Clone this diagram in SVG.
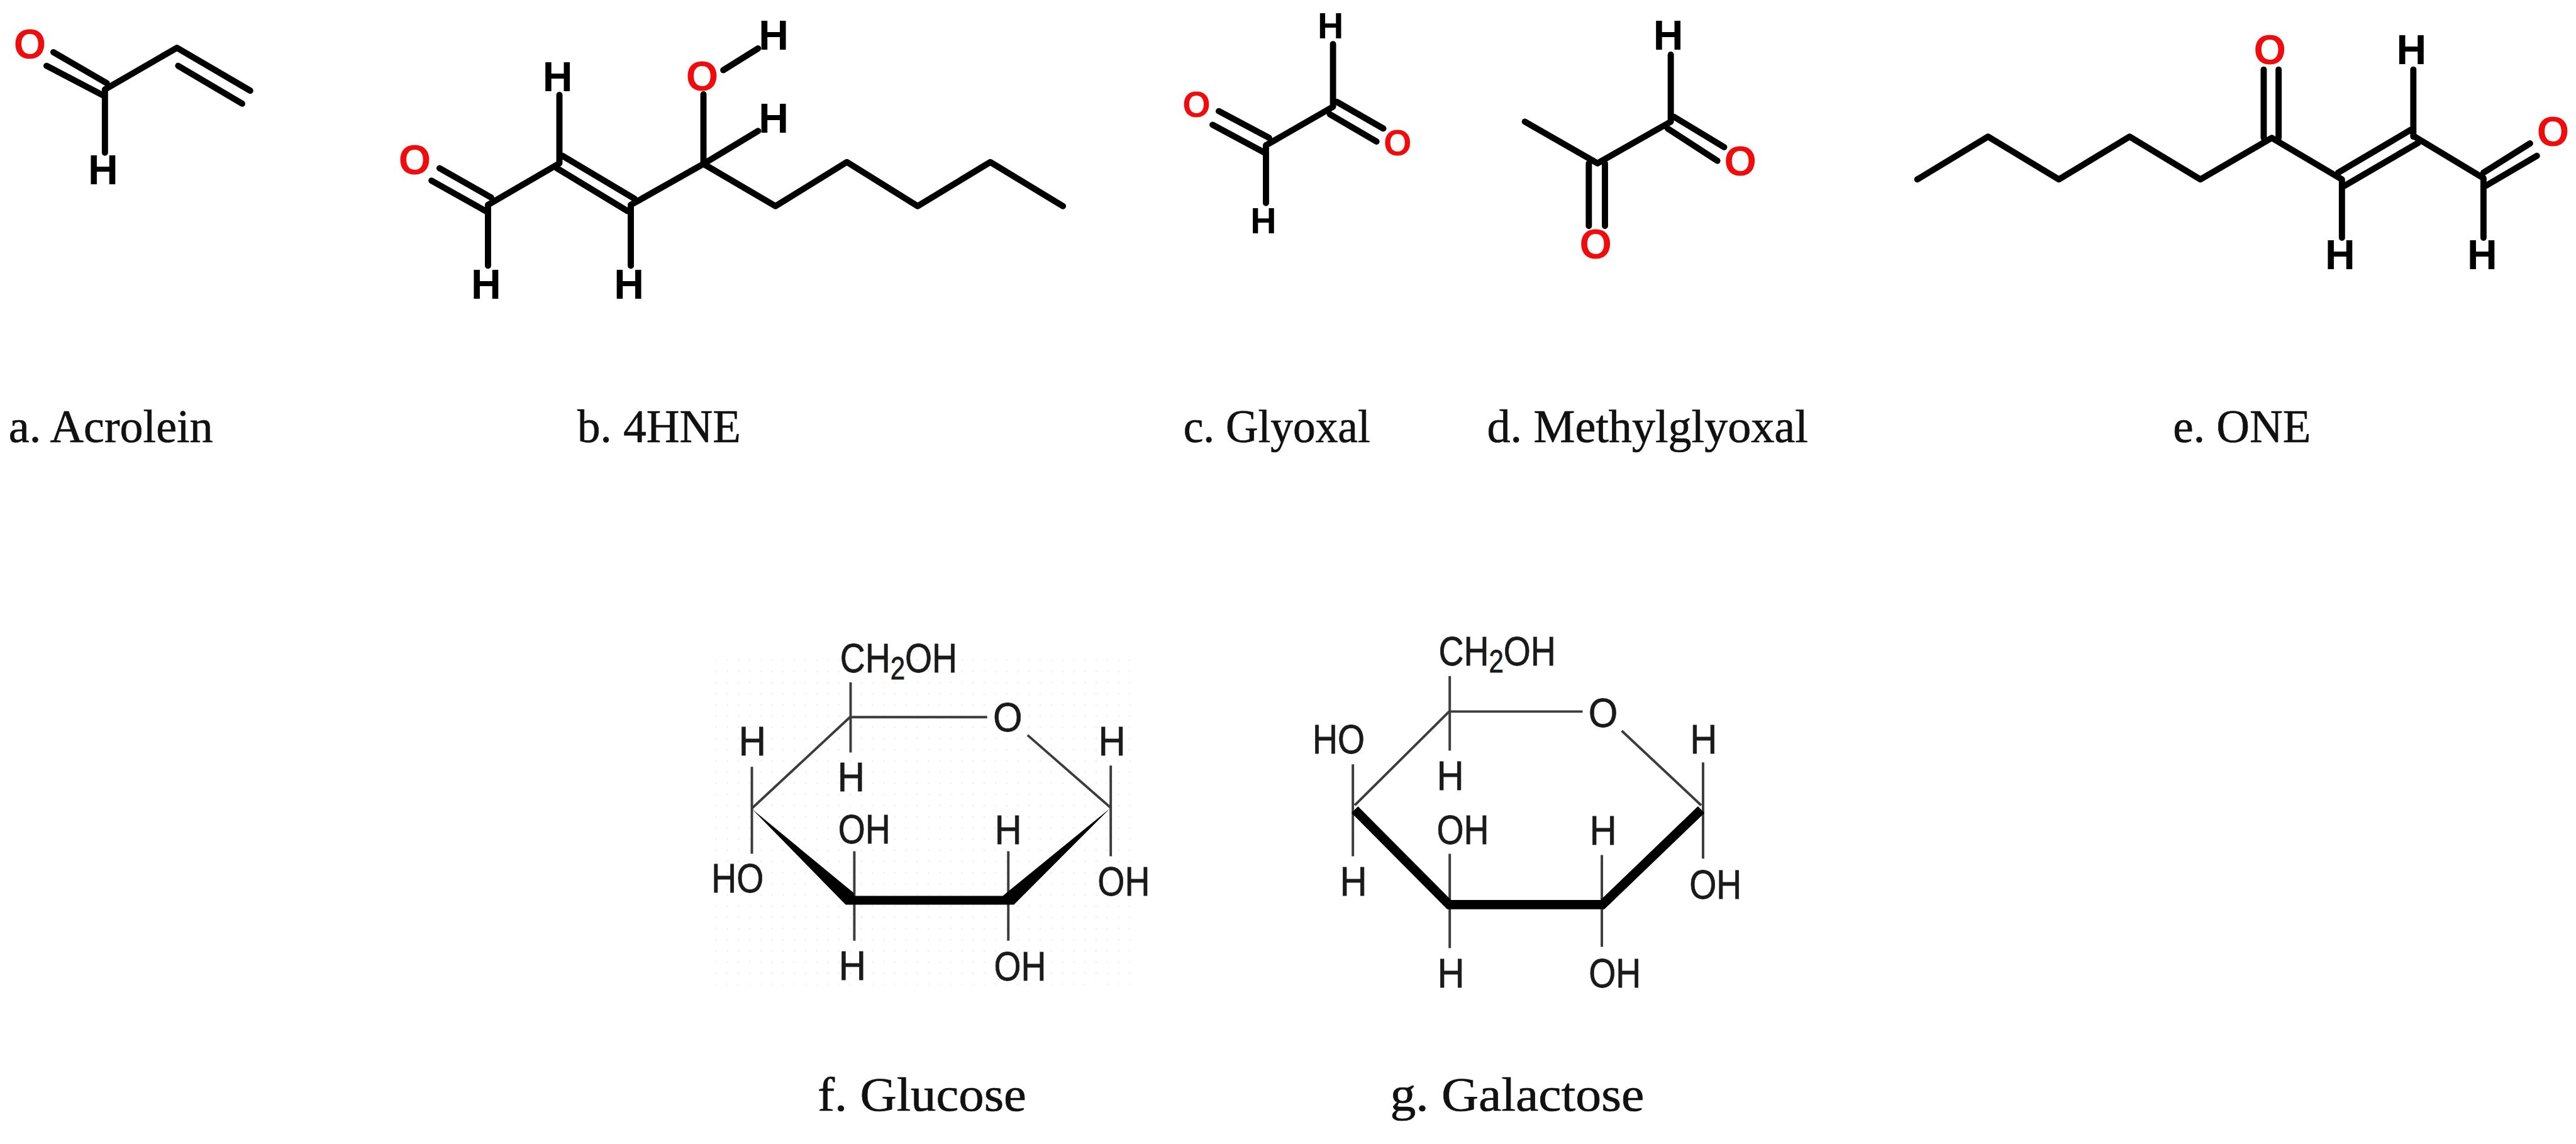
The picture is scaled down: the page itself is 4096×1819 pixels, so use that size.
<svg xmlns="http://www.w3.org/2000/svg" width="4096" height="1819" viewBox="0 0 4096 1819">
<style>
.b{fill:none;stroke:#000;stroke-width:10;stroke-linecap:round;stroke-linejoin:round}
.t{fill:none;stroke:#3c3c3c;stroke-width:4}
.w{fill:#000}
.a{font-family:"Liberation Sans",Arial,sans-serif;font-weight:700;font-size:67px;text-anchor:middle;fill:#000}
.o{fill:#f00c0c}
.s{font-size:58px}
.m{font-family:"Liberation Sans",Arial,sans-serif;font-size:66px;fill:#1a1a1a;stroke:#1a1a1a;stroke-width:.8}
.c{text-anchor:middle}
.l{font-family:"Liberation Serif","Times New Roman",serif;font-size:74px;fill:#111;stroke:#111;stroke-width:.7}
.k{font-size:77px}
</style>
<defs>
<pattern id="dots" width="18" height="18" patternUnits="userSpaceOnUse"><rect width="3" height="3" fill="#f2f2f2"/></pattern>
</defs>
<rect width="4096" height="1819" fill="#fff"/>
<g transform="scale(0.98723)">
<g id="acrolein">
<path class="b" d="M86 84L172 134M75 106L169 155M169 144L285 77L403 146M287 106L390 167M169 144V246"/>
<text class="a o" x="48" y="94">O</text><text class="a" x="166" y="297">H</text>
<text class="l" x="14" y="712" textLength="329" lengthAdjust="spacingAndGlyphs">a. Acrolein</text>
</g>
<g id="hne">
<path class="b" d="M708 271L791 318M695 291L786 342M786 330V428M786 330L901 263V153M906 251L1022 320M897 271L1011 340M1016 330V428M1016 330L1133 264V152M1165 113L1221 78M1133 264L1221 211M1133 264L1249 332L1364 261L1478 332L1595 261L1712 332"/>
<text class="a o" x="668" y="281">O</text><text class="a" x="783" y="481">H</text><text class="a" x="898" y="147">H</text><text class="a" x="1013" y="481">H</text><text class="a o" x="1131" y="146">O</text><text class="a" x="1246" y="80">H</text><text class="a" x="1246" y="214">H</text>
<text class="l" x="930" y="712" textLength="263" lengthAdjust="spacingAndGlyphs">b. 4HNE</text>
</g>
<g id="glyoxal">
<path class="b" d="M1963 179L2044 222M1953 201L2037 246M2039 234V327M2039 234L2147 172V71M2153 164L2228 207M2142 184L2217 228"/>
<text class="a s o" x="1927" y="188">O</text><text class="a s" x="2035" y="376">H</text><text class="a s" x="2143" y="62">H</text><text class="a s o" x="2251" y="250">O</text>
<text class="l" x="1906" y="712" textLength="301" lengthAdjust="spacingAndGlyphs">c. Glyoxal</text>
</g>
<g id="methylglyoxal">
<path class="b" d="M2456 196L2573 263L2691 196V88M2559 263V364M2585 263V364M2696 188L2777 237M2686 207L2766 259"/>
<text class="a o" x="2570" y="416">O</text><text class="a" x="2687" y="80">H</text><text class="a o" x="2803" y="283">O</text>
<text class="l" x="2395" y="712" textLength="517" lengthAdjust="spacingAndGlyphs">d. Methylglyoxal</text>
</g>
<g id="one">
<path class="b" d="M3088 289L3202 220L3316 289L3430 220L3544 289L3659 222L3772 289V383M3646 222V112M3670 222V112M3766 278L3883 209M3773 301L3895 230M3887 220V112M3889 220L4000 287V383M4000 278L4075 231M4004 299L4086 251"/>
<text class="a o" x="3656" y="103">O</text><text class="a" x="3884" y="103">H</text><text class="a" x="3769" y="434">H</text><text class="a" x="3998" y="434">H</text><text class="a o" x="4112" y="235">O</text>
<text class="l" x="3500" y="712" textLength="222" lengthAdjust="spacingAndGlyphs">e. ONE</text>
</g>
<g id="glucose">
<rect x="1151" y="1062" width="673" height="524" fill="url(#dots)"/>
<path class="t" d="M1370 1099V1212M1369 1155H1590M1369 1155L1211 1302M1211 1235V1375M1655 1184L1789 1301M1789 1233V1379M1376 1371V1515M1624 1371V1515"/>
<path class="w" d="M1211 1303L1375 1438L1376 1443H1615L1788 1302L1633 1457H1362Z"/>
<text class="m" transform="translate(1353 1083) scale(.85 1)">CH<tspan dy="11" font-size="50">2</tspan><tspan dy="-11">OH</tspan></text>
<text class="m c" transform="translate(1212 1217) scale(.92 1)">H</text>
<text class="m c" transform="translate(1371 1274) scale(.92 1)">H</text>
<text class="m c" transform="translate(1623 1178) scale(.92 1)">O</text>
<text class="m c" transform="translate(1791 1217) scale(.92 1)">H</text>
<text class="m c" transform="translate(1188 1437) scale(.85 1)">HO</text>
<text class="m c" transform="translate(1392 1358) scale(.85 1)">OH</text>
<text class="m c" transform="translate(1624 1359) scale(.92 1)">H</text>
<text class="m c" transform="translate(1810 1442) scale(.85 1)">OH</text>
<text class="m c" transform="translate(1373 1578) scale(.92 1)">H</text>
<text class="m c" transform="translate(1643 1579) scale(.85 1)">OH</text>
<text class="l k" x="1317" y="1789" textLength="336" lengthAdjust="spacingAndGlyphs">f. Glucose</text>
</g>
<g id="galactose">
<path class="t" d="M2335 1089V1209M2334 1146H2549M2334 1146L2182 1297M2179 1231V1379M2612 1177L2740 1297M2743 1228V1383M2335 1375V1527M2580 1377V1525"/>
<path d="M2182 1304L2334 1457H2581L2740 1304" fill="none" stroke="#000" stroke-width="15"/>
<text class="m" transform="translate(2317 1072) scale(.85 1)">CH<tspan dy="11" font-size="50">2</tspan><tspan dy="-11">OH</tspan></text>
<text class="m c" transform="translate(2582 1171) scale(.92 1)">O</text>
<text class="m c" transform="translate(2744 1213) scale(.92 1)">H</text>
<text class="m c" transform="translate(2156 1214) scale(.85 1)">HO</text>
<text class="m c" transform="translate(2336 1272) scale(.92 1)">H</text>
<text class="m c" transform="translate(2356 1359) scale(.85 1)">OH</text>
<text class="m c" transform="translate(2582 1360) scale(.92 1)">H</text>
<text class="m c" transform="translate(2180 1442) scale(.92 1)">H</text>
<text class="m c" transform="translate(2763 1447) scale(.85 1)">OH</text>
<text class="m c" transform="translate(2337 1590) scale(.92 1)">H</text>
<text class="m c" transform="translate(2601 1590) scale(.85 1)">OH</text>
<text class="l k" x="2239" y="1789" textLength="409" lengthAdjust="spacingAndGlyphs">g. Galactose</text>
</g>
</g>
</svg>
